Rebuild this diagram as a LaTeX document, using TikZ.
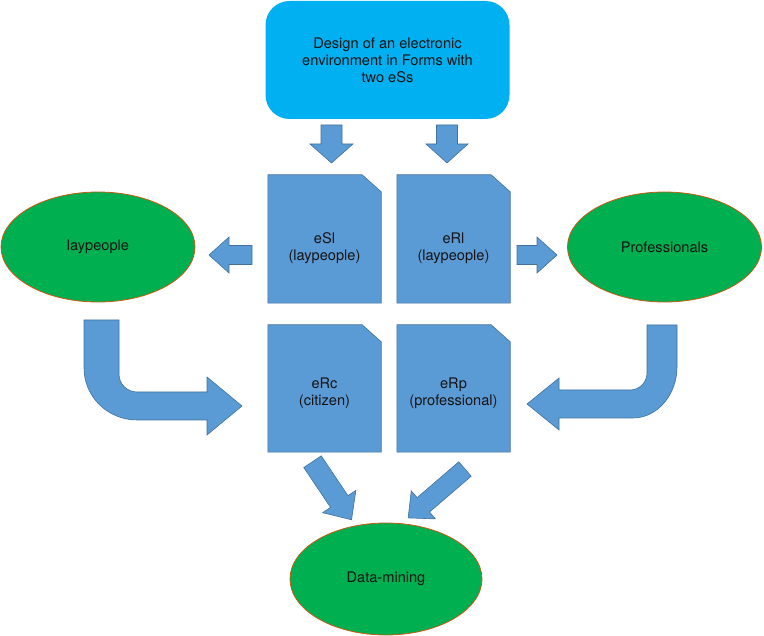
\documentclass[tikz,border=0pt]{standalone}
\usepackage{fontspec}
\setmainfont{TeX Gyre Heros}
\usetikzlibrary{shapes.geometric}
\definecolor{cyanbox}{HTML}{00B0F0}
\definecolor{bluefill}{HTML}{5B9BD5}
\definecolor{blueline}{HTML}{41719C}
\definecolor{greenfill}{HTML}{00B050}
\definecolor{greenline}{HTML}{C55A11}
\definecolor{txt}{HTML}{141414}
\newcommand\blockarrow[7]{%
  \begin{scope}[shift={(#1,#2)},rotate=#3]
    \draw[blk] (0,-#5) -- ({#4-#7},-#5) -- ({#4-#7},-#6) -- (#4,0) -- ({#4-#7},#6) -- ({#4-#7},#5) -- (0,#5) -- cycle;
  \end{scope}}
\newcommand\docshape[1]{%
  \draw[blk] (#1.south west) -- (#1.north west) -- ([xshift=-19pt]#1.north east) -- ([yshift=-17pt]#1.north east) -- (#1.south east) -- cycle;}
\begin{document}
\begin{tikzpicture}[x=1pt,y=-1pt,
  every node/.style={font=\fontsize{14.6}{17}\selectfont, text=txt},
  topbox/.style={rectangle, rounded corners=24pt, fill=cyanbox, minimum width=244pt, minimum height=118pt, align=center, inner sep=0pt},
  greenell/.style={ellipse, fill=greenfill, draw=greenline, line width=0.8pt, minimum width=194pt, minimum height=110pt, inner sep=0pt},
  docbox/.style={rectangle, minimum width=113pt, minimum height=128pt, inner sep=0pt},
  doctext/.style={align=center, inner sep=0pt},
  blk/.style={fill=bluefill, draw=blueline, line width=0.6pt, line join=miter},
]
\useasboundingbox (0,0) rectangle (764,636);

% top box
\node[topbox] (design) at (387.5,60) {Design of an electronic\\environment in Forms with\\two eSs};

% ellipses
\node[greenell] (lay) at (98,247) {laypeople};
\node[greenell] (pro) at (664.5,247) {Professionals};
\node[greenell, minimum width=192pt, minimum height=112pt] (dm) at (386,579) {Data-mining};

% documents
\node[docbox] (esl) at (324.5,239) {};
\node[docbox] (erl) at (453.5,239) {};
\node[docbox, minimum height=127pt] (erc) at (324.5,388.5) {};
\node[docbox, minimum height=127pt] (erp) at (453.5,388.5) {};
\docshape{esl}
\docshape{erl}
\docshape{erc}
\docshape{erp}
\node[doctext] (eslt) at ([yshift=-9pt]esl.center) {eSl\\(laypeople)};
\node[doctext] (erlt) at ([yshift=-9pt]erl.center) {eRl\\(laypeople)};
\node[doctext] (erct) at ([yshift=-5pt]erc.center) {eRc\\(citizen)};
\node[doctext] (erpt) at ([yshift=-5pt]erp.center) {eRp\\(professional)};

% straight block arrows
\blockarrow{331.5}{125}{-90}{38}{10.5}{21.5}{19}
\blockarrow{447}{125}{-90}{38}{10.5}{21}{19}
\blockarrow{252}{255}{180}{43}{9.5}{18}{20}
\blockarrow{517}{255}{0}{40}{9.5}{18}{20}
\blockarrow{312.5}{461.7}{-56.1}{70}{10.5}{20}{22}
\blockarrow{465}{469}{-139.3}{75}{9.5}{18.5}{20}

% bent arrows
\draw[blk] (84,320) -- (84,368) .. controls (84,396.7) and (107.7,420) .. (137,420)
  -- (207,420) -- (207,435) -- (242,406) -- (207,377) -- (207,392) -- (137,392)
  .. controls (127,392) and (119,384) .. (119,374) -- (119,320) -- cycle;
\draw[blk] (677,325) -- (677,367) .. controls (677,395) and (657,418) .. (633,418)
  -- (559,418) -- (559,430) -- (527,404) -- (559,378) -- (559,390) -- (630,390)
  .. controls (639.4,390) and (647,382.4) .. (647,373) -- (647,325) -- cycle;
\end{tikzpicture}
\end{document}
